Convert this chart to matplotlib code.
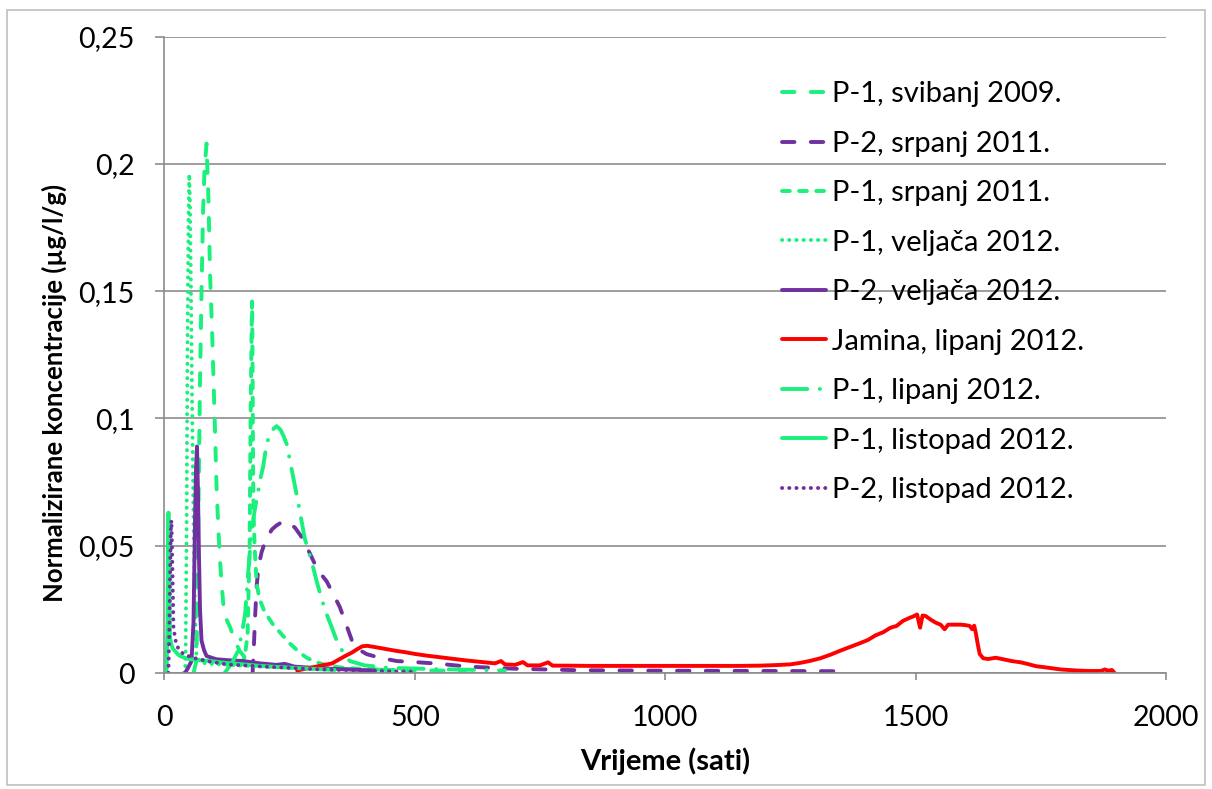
import matplotlib
matplotlib.use('Agg')
import matplotlib.pyplot as plt
from matplotlib.patches import Rectangle
from matplotlib.ticker import FuncFormatter

plt.rcParams['font.family'] = ['Lato', 'DejaVu Sans']

# (hours, normalized concentration)
p1_svibanj_2009 = [(58, 0), (64, 0.005), (67, 0.05), (71, 0.115), (74, 0.15), (77, 0.181), (80, 0.198),
                   (84, 0.208), (88, 0.185), (91, 0.157), (95, 0.135), (98, 0.115), (101, 0.095),
                   (104, 0.073), (108, 0.055), (111, 0.044), (115, 0.033), (118, 0.026), (124, 0.021),
                   (131, 0.018), (140, 0.013), (150, 0.0087), (165, 0.005), (190, 0.0035), (240, 0.0025),
                   (320, 0.0018), (450, 0.0012), (600, 0.0008)]
p2_srpanj_2011 = [(176, 0), (178, 0.008), (181, 0.022), (184, 0.034), (188, 0.042), (194, 0.0475),
                  (200, 0.051), (207, 0.054), (215, 0.0565), (224, 0.058), (232, 0.059), (241, 0.0595),
                  (250, 0.059), (261, 0.057), (272, 0.054), (284, 0.0496), (300, 0.043), (312, 0.039),
                  (324, 0.036), (337, 0.031), (350, 0.026), (363, 0.019), (377, 0.0113), (390, 0.009),
                  (404, 0.0074), (430, 0.006), (464, 0.0047), (491, 0.0044), (545, 0.0037), (591, 0.0028),
                  (618, 0.0024), (697, 0.0017), (826, 0.0011), (1000, 0.0009), (1200, 0.0008), (1357, 0.0007)]
p1_srpanj_2011 = [(150, 0.003), (160, 0.006), (166, 0.015), (170, 0.05), (172, 0.1), (174, 0.135),
                  (175, 0.146), (176, 0.12), (177, 0.08), (178, 0.062), (180, 0.05), (184, 0.035),
                  (190, 0.029), (200, 0.024), (217, 0.019), (235, 0.015), (251, 0.0115), (270, 0.008),
                  (284, 0.006), (300, 0.0045), (317, 0.0034), (350, 0.0022), (400, 0.0015), (500, 0.001)]
p1_veljaca_2012 = [(38, 0), (42, 0.003), (44, 0.05), (46, 0.13), (48, 0.18), (49.5, 0.196), (51, 0.185),
                   (53, 0.15), (55, 0.11), (58, 0.06), (61, 0.025), (64, 0.006), (75, 0.004), (100, 0.0035),
                   (150, 0.003), (200, 0.0025), (260, 0.002), (320, 0.0015)]
p2_veljaca_2012 = [(41, 0), (47, 0.002), (54, 0.0047), (58, 0.02), (61, 0.06), (63, 0.08), (65, 0.089),
                   (67, 0.07), (69, 0.045), (71, 0.025), (74, 0.0127), (79, 0.009), (84, 0.0067),
                   (94, 0.006), (104, 0.0054), (130, 0.005), (157, 0.0047), (190, 0.0038), (224, 0.0032),
                   (240, 0.0036), (260, 0.0025), (300, 0.002), (350, 0.0015), (420, 0.001)]
jamina_lipanj_2012 = [(265, 0.001), (290, 0.002), (315, 0.003), (335, 0.0038), (350, 0.0055), (362, 0.0068),
                      (374, 0.008), (386, 0.0095), (395, 0.0105), (405, 0.0107), (420, 0.0102), (440, 0.0095),
                      (460, 0.0088), (480, 0.0082), (500, 0.0075), (525, 0.0068), (550, 0.0062),
                      (575, 0.0056), (600, 0.005), (630, 0.0044), (660, 0.0038), (672, 0.0047), (680, 0.0034),
                      (700, 0.0032), (716, 0.0043), (725, 0.003), (750, 0.003), (766, 0.0042), (775, 0.0029),
                      (800, 0.0029), (850, 0.0028), (900, 0.0028), (950, 0.0028), (1000, 0.0028),
                      (1050, 0.0028), (1100, 0.0028), (1150, 0.0028), (1190, 0.0029), (1220, 0.0031),
                      (1250, 0.0034), (1270, 0.004), (1290, 0.0048), (1310, 0.0058), (1330, 0.0072),
                      (1350, 0.0088), (1370, 0.0103), (1390, 0.0118), (1405, 0.013), (1420, 0.0148),
                      (1435, 0.016), (1450, 0.0178), (1462, 0.0185), (1475, 0.0205), (1486, 0.0215),
                      (1495, 0.0222), (1503, 0.023), (1509, 0.0178), (1514, 0.0226), (1520, 0.0224),
                      (1530, 0.021), (1540, 0.0198), (1550, 0.019), (1558, 0.0172), (1565, 0.019),
                      (1575, 0.019), (1590, 0.019), (1600, 0.0188), (1608, 0.0185), (1613, 0.0172),
                      (1617, 0.0186), (1620, 0.016), (1624, 0.0115), (1628, 0.0075), (1635, 0.0058),
                      (1645, 0.0055), (1660, 0.006), (1675, 0.0054), (1692, 0.0047), (1710, 0.0042),
                      (1725, 0.0035), (1740, 0.0027), (1760, 0.0022), (1790, 0.0014), (1820, 0.001),
                      (1845, 0.0008), (1870, 0.0008), (1878, 0.0014), (1885, 0.0009), (1892, 0.0012),
                      (1897, 0.0001)]
p1_lipanj_2012 = [(120, 0), (135, 0.004), (147, 0.0087), (154, 0.015), (161, 0.023), (167, 0.039),
                  (174, 0.056), (181, 0.065), (187, 0.071), (191, 0.076), (197, 0.081), (204, 0.09),
                  (211, 0.094), (218, 0.096), (224, 0.097), (232, 0.0955), (238, 0.093), (244, 0.09),
                  (254, 0.08), (261, 0.073), (267, 0.067), (280, 0.053), (295, 0.043), (304, 0.036),
                  (314, 0.029), (324, 0.023), (334, 0.018), (344, 0.0127), (357, 0.008), (370, 0.0047),
                  (400, 0.003), (450, 0.002), (550, 0.0015), (680, 0.001)]
p1_listopad_2012 = [(4, 0), (6, 0.02), (7, 0.05), (8, 0.063), (9, 0.045), (11, 0.014), (14, 0.011),
                    (17, 0.0095), (21, 0.0087), (26, 0.0075), (31, 0.0067), (40, 0.006), (51, 0.0054),
                    (70, 0.005), (91, 0.0047), (120, 0.004), (157, 0.0034), (190, 0.0028), (224, 0.0024),
                    (280, 0.0018), (340, 0.0012)]
p2_listopad_2012 = [(8, 0), (10, 0.02), (12, 0.05), (13, 0.058), (14, 0.06), (16, 0.04), (18, 0.018),
                    (21, 0.014), (24, 0.011), (30, 0.009), (38, 0.0074), (57, 0.006), (90, 0.0045),
                    (124, 0.0034), (200, 0.0025), (300, 0.0015), (430, 0.0008), (500, 0.0005)]

GREEN = '#1AF07C'
PURPLE = '#7030A0'
RED = '#FF0000'
GRID = '#8C8C8C'

series = [
    (p1_svibanj_2009, 'P-1, svibanj 2009.', GREEN, (3.2, 4.2)),
    (p2_srpanj_2011, 'P-2, srpanj 2011.', PURPLE, (3.2, 4.2)),
    (p1_srpanj_2011, 'P-1, srpanj 2011.', GREEN, (2.0, 2.4)),
    (p1_veljaca_2012, 'P-1, veljača 2012.', GREEN, (0.05, 1.8)),
    (p2_veljaca_2012, 'P-2, veljača 2012.', PURPLE, None),
    (jamina_lipanj_2012, 'Jamina, lipanj 2012.', RED, None),
    (p1_lipanj_2012, 'P-1, lipanj 2012.', GREEN, (6.5, 3.2, 0.05, 3.2)),
    (p1_listopad_2012, 'P-1, listopad 2012.', GREEN, None),
    (p2_listopad_2012, 'P-2, listopad 2012.', PURPLE, (0.05, 1.8)),
]

fig = plt.figure(figsize=(12.12, 7.89), dpi=100)
ax = fig.add_axes([0.1357, 0.147, 0.8263, 0.8065])

for pts, label, color, dashes in series:
    xs = [p[0] for p in pts]
    ys = [p[1] for p in pts]
    line, = ax.plot(xs, ys, color=color, lw=2.8, label=label,
                    solid_capstyle='round', solid_joinstyle='round')
    if dashes is not None:
        line.set_dashes(dashes)
        line.set_dash_capstyle('round')

ax.set_xlim(0, 2000)
ax.set_ylim(0, 0.25)
ax.set_xticks([0, 500, 1000, 1500, 2000])
ax.set_yticks([0, 0.05, 0.1, 0.15, 0.2, 0.25])
ax.yaxis.set_major_formatter(FuncFormatter(lambda v, p: ('%g' % round(v, 2)).replace('.', ',')))
ax.grid(axis='y', color=GRID, lw=1.2)
ax.set_axisbelow(True)
for s in ['top', 'right']:
    ax.spines[s].set_visible(False)
for s in ['left', 'bottom']:
    ax.spines[s].set_color(GRID)
    ax.spines[s].set_linewidth(1.2)
ax.tick_params(axis='y', length=6.5, width=1.2, color=GRID, pad=15, labelsize=20.5)
ax.tick_params(axis='x', length=5, width=1.2, color=GRID, pad=18, labelsize=20.5)

ax.set_xlabel('Vrijeme (sati)', fontsize=21, fontweight='bold')
ax.set_ylabel('Normalizirane koncentracije (µg/l/g)', fontsize=18.5, fontweight='bold')
ax.xaxis.set_label_coords(0.5, -0.117)
ax.yaxis.set_label_coords(-0.097, 0.44)

ax.legend(loc='upper left', bbox_to_anchor=(0.6166, 0.930), frameon=False, fontsize=21,
          handlelength=1.5, handletextpad=0.22, labelspacing=0.805, borderpad=0, borderaxespad=0)

fig.patches.append(Rectangle((7 / 1212, 4 / 789), 1198 / 1212, 775 / 789, transform=fig.transFigure,
                             fill=False, edgecolor='#BFBFBF', lw=1.2))

fig.savefig('out.png', dpi=100)
